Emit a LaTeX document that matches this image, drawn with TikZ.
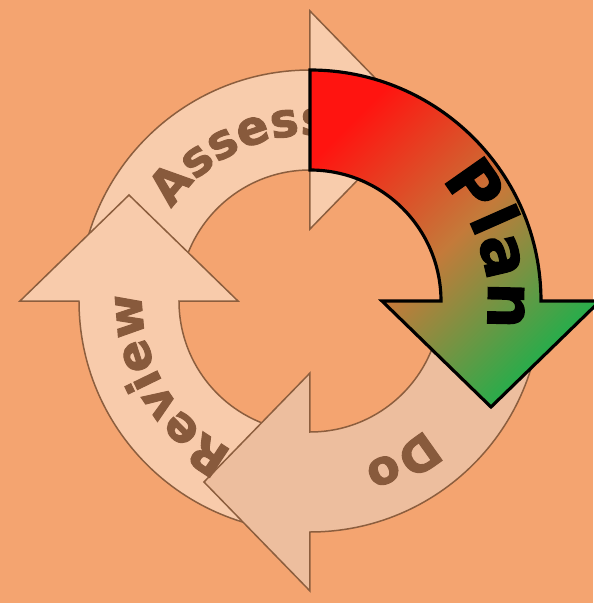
\documentclass[tikz,border=0pt]{standalone}
\usepackage{fontspec}
\setmainfont{DejaVu Sans}
\newfontfamily\heavyfont{DejaVu Sans}[UprightFeatures={FakeBold=2}, BoldFeatures={FakeBold=2}]
\usepackage{xcolor}
\usepackage{tikz}
\usetikzlibrary{decorations.text}

\definecolor{backdrop}{HTML}{F4A470}
\definecolor{fadededge}{HTML}{8C5E3E}
\definecolor{fadedtext}{HTML}{885A3C}
\definecolor{assessfill}{HTML}{F8CCAC}
\definecolor{reviewfill}{HTML}{F8CBAB}
\definecolor{dofill}{HTML}{EDBE9E}
\definecolor{planred}{HTML}{FF1410}
\definecolor{planmid}{HTML}{C47A3A}
\definecolor{plangreen}{HTML}{1DB04C}

\begin{document}
\begin{tikzpicture}[x=0.02cm, y=0.02cm,
    faded/.style={draw=fadededge, line width=0.85pt, line join=miter},
    plan arrow/.style={draw=black, line width=1.8pt, line join=miter,
        top color=planred, bottom color=plangreen, middle color=planmid, shading angle=45},
    faded word/.style={decorate, decoration={text along path, text align=center, text color=fadedtext}},
    plan word/.style={decorate, decoration={text along path, text align=center, text color=black}}]
    % page
    \fill[backdrop] (-310,-302) rectangle (283,301);
    \useasboundingbox (-310,-302) rectangle (283,301);
    % the three pale arrows, turned round the centre
    \foreach \rot/\shade in {90/assessfill,180/reviewfill,270/dofill} {
            \filldraw[faded, fill=\shade, rotate=\rot]
            (90:231) arc[start angle=90, end angle=0, radius=231]
            -- (290,0) -- (181,-106) -- (72,0) -- (131,0)
            arc[start angle=0, end angle=90, radius=131] -- cycle;
        }
    \path[faded word, decoration={text={|\fontsize{27}{27}\selectfont\heavyfont\bfseries|Assess}}]
    (158:166) arc[start angle=158, end angle=72, radius=166];
    \path[faded word, decoration={text={|\fontsize{27}{27}\selectfont\heavyfont\bfseries|Review}}]
    (253:168) arc[start angle=253, end angle=167, radius=168];
    \path[faded word, decoration={text={|\fontsize{27}{27}\selectfont\heavyfont\bfseries|Do}}]
    (-17:172) arc[start angle=-17, end angle=-103, radius=172];
    % the Plan arrow on top
    \filldraw[plan arrow]
    (90:231) arc[start angle=90, end angle=0, radius=231]
    -- (290,0) -- (181,-106) -- (72,0) -- (131,0)
    arc[start angle=0, end angle=90, radius=131] -- cycle;
    \path[plan word, decoration={text={|\fontsize{37}{37}\selectfont\heavyfont\bfseries|Plan}}]
    (60:178) arc[start angle=60, end angle=-26, radius=178];
\end{tikzpicture}
\end{document}
